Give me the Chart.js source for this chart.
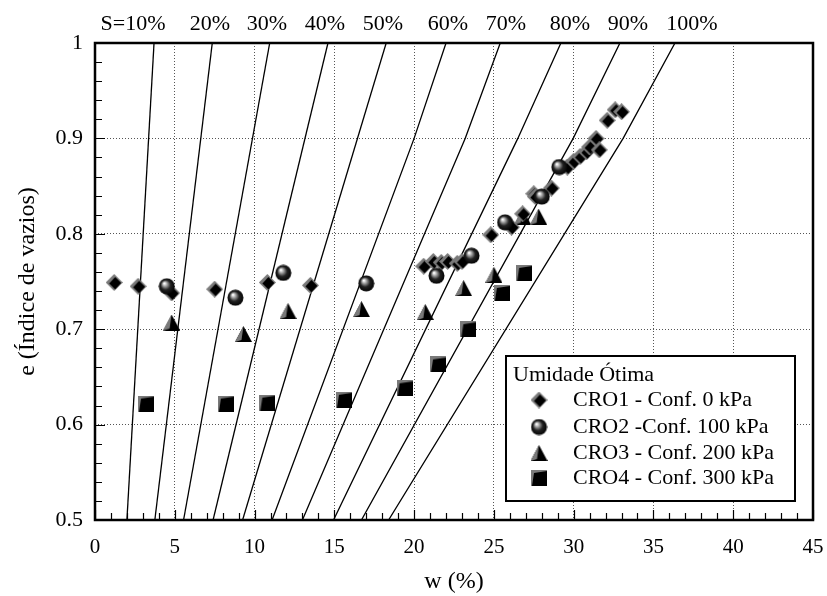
<!DOCTYPE html>
<html>
<head>
<meta charset="utf-8">
<script src="https://cdn.jsdelivr.net/npm/chart.js@4.4.1/dist/chart.umd.min.js"></script>
<style>
  html, body { margin: 0; padding: 0; background: #fff; }
  #wrap { width: 827px; height: 596px; }
</style>
</head>
<body>
<div id="wrap"><canvas id="c" width="827" height="596"></canvas></div>
<script>
// Moisture content w (%) and void ratio e for each confining pressure
const cro1W = [1.2, 2.7, 4.8, 7.5, 10.8, 13.5, 20.6, 21.2, 21.7, 22.1, 22.7, 23.0, 24.8, 26.1, 26.8, 27.5, 27.6, 28.6, 29.6, 30.0, 30.4, 30.8, 31.0, 31.4, 31.6, 32.1, 32.6, 33.0];
const cro1E = [0.749, 0.745, 0.738, 0.742, 0.749, 0.746, 0.766, 0.771, 0.770, 0.771, 0.769, 0.771, 0.799, 0.807, 0.821, 0.842, 0.839, 0.848, 0.870, 0.876, 0.881, 0.886, 0.891, 0.900, 0.888, 0.919, 0.930, 0.928];

const cro2W = [4.5, 8.8, 11.8, 17.0, 21.4, 23.6, 25.7, 28.0, 29.1];
const cro2E = [0.745, 0.733, 0.759, 0.748, 0.756, 0.777, 0.812, 0.839, 0.870];

const cro3W = [4.8, 9.3, 12.1, 16.7, 20.7, 23.1, 25.0, 26.8, 27.8];
const cro3E = [0.707, 0.695, 0.719, 0.721, 0.718, 0.743, 0.757, 0.818, 0.818];

const cro4W = [3.2, 8.2, 10.8, 15.6, 19.4, 21.5, 23.4, 25.5, 26.9];
const cro4E = [0.622, 0.622, 0.623, 0.626, 0.638, 0.663, 0.700, 0.738, 0.759];

// Degree-of-saturation lines: w where each line crosses e = 0.5, 0.9 and 1.0
const satLabels = ['S=10%', '20%', '30%', '40%', '50%', '60%', '70%', '80%', '90%', '100%'];
const satW05 = [2.0, 3.75, 5.55, 7.4, 9.25, 11.1, 13.0, 14.95, 16.7, 18.4];
const satW09 = [null, null, null, null, null, 20.0, 23.2, 26.5, 29.97, 33.1];
const satW10 = [3.7, 7.35, 10.95, 14.6, 18.25, 22.0, 25.4, 29.2, 32.9, 36.35];

const seriesNames = ['CRO1 - Conf. 0 kPa', 'CRO2 -Conf. 100 kPa', 'CRO3 - Conf. 200 kPa', 'CRO4 - Conf. 300 kPa'];
const legendTitle = 'Umidade Ótima';

const xTicks = [0, 5, 10, 15, 20, 25, 30, 35, 40, 45];
const yTicks = [0.5, 0.6, 0.7, 0.8, 0.9, 1];

const SERIF = '"Liberation Serif", "Times New Roman", serif';

// ---- shaded marker sprites ----
function sprite(w, h, draw) {
  const cv = document.createElement('canvas');
  cv.width = w; cv.height = h;
  draw(cv.getContext('2d'), w, h);
  return cv;
}
const diamondImg = sprite(17, 17, (g) => {
  g.fillStyle = '#7a7a7a';
  g.beginPath(); g.moveTo(8.5, 0); g.lineTo(17, 8.5); g.lineTo(8.5, 17); g.lineTo(0, 8.5); g.closePath(); g.fill();
  g.fillStyle = '#000';
  g.beginPath(); g.moveTo(9.5, 3); g.lineTo(15.5, 9); g.lineTo(9.5, 15.5); g.lineTo(3.5, 9.5); g.closePath(); g.fill();
});
const sphereImg = sprite(17, 17, (g) => {
  const gr = g.createRadialGradient(6, 5.5, 0.5, 8.5, 8.5, 8.5);
  gr.addColorStop(0, '#ffffff');
  gr.addColorStop(0.25, '#9a9a9a');
  gr.addColorStop(0.55, '#222');
  gr.addColorStop(1, '#000');
  g.fillStyle = gr;
  g.beginPath(); g.arc(8.5, 8.5, 8, 0, Math.PI * 2); g.fill();
});
const triangleImg = sprite(17, 16, (g) => {
  g.fillStyle = '#000';
  g.beginPath(); g.moveTo(8.5, 0); g.lineTo(17, 16); g.lineTo(0, 16); g.closePath(); g.fill();
  g.fillStyle = '#7a7a7a';
  g.beginPath(); g.moveTo(8.5, 0); g.lineTo(6.5, 14); g.lineTo(0, 16); g.closePath(); g.fill();
});
const squareImg = sprite(16, 16, (g) => {
  g.fillStyle = '#7a7a7a';
  g.fillRect(0, 0, 16, 16);
  g.fillStyle = '#000';
  g.beginPath(); g.moveTo(3, 3); g.lineTo(16, 1); g.lineTo(16, 16); g.lineTo(1, 16); g.closePath(); g.fill();
  g.fillRect(3, 3, 13, 13);
});
const markerImgs = [diamondImg, sphereImg, triangleImg, squareImg];

function pts(ws, es) { return ws.map((w, i) => ({ x: w, y: es[i] })); }

const satDatasets = satLabels.map((lab, i) => {
  const p = [{ x: satW05[i], y: 0.5 }];
  if (satW09[i] !== null) p.push({ x: satW09[i], y: 0.9 });
  p.push({ x: satW10[i], y: 1.0 });
  return {
    label: lab, data: p, showLine: true, borderColor: '#000', borderWidth: 1.3,
    pointRadius: 0, pointHoverRadius: 0, fill: false, order: 10, tension: 0
  };
});

const markerSets = [[cro1W, cro1E], [cro2W, cro2E], [cro3W, cro3E], [cro4W, cro4E]].map((s, i) => ({
  label: seriesNames[i], data: pts(s[0], s[1]), showLine: false,
  pointStyle: markerImgs[i], pointRadius: 8, order: [2, 1, 3, 4][i]
}));

// frame, inward ticks, saturation captions, axis titles and legend box
const decor = {
  id: 'decor',
  afterDatasetsDraw(chart) {
    const { ctx, chartArea: a, scales: { x, y } } = chart;
    ctx.save();
    ctx.strokeStyle = '#000';
    // inward ticks
    ctx.lineWidth = 1.2;
    ctx.beginPath();
    for (let v = 0; v <= 45; v += 1) {
      const px = Math.round(x.getPixelForValue(v)) + 0.5;
      const len = v % 5 === 0 ? 10 : 7;
      ctx.moveTo(px, a.bottom); ctx.lineTo(px, a.bottom - len);
    }
    for (let k = 0; k <= 25; k++) {
      const v = 0.5 + k * 0.02;
      const py = Math.round(y.getPixelForValue(v)) + 0.5;
      const len = k % 5 === 0 ? 10 : 7;
      ctx.moveTo(a.left, py); ctx.lineTo(a.left + len, py);
    }
    ctx.stroke();
    // frame
    ctx.lineWidth = 2.5;
    ctx.strokeRect(a.left, a.top, a.right - a.left, a.bottom - a.top);

    // saturation captions above the plot
    ctx.fillStyle = '#000';
    ctx.font = '22px ' + SERIF;
    ctx.textAlign = 'center';
    ctx.textBaseline = 'alphabetic';
    const capX = [133, 210, 267, 325, 383, 448, 506, 570, 628, 692];
    satLabels.forEach((t, i) => ctx.fillText(t, capX[i], 30));

    // axis titles
    ctx.font = '24px ' + SERIF;
    ctx.fillText('w (%)', (a.left + a.right) / 2, 588);
    ctx.save();
    ctx.translate(28, (a.top + a.bottom) / 2);
    ctx.rotate(-Math.PI / 2);
    ctx.textBaseline = 'middle';
    ctx.fillText('e (Índice de vazios)', 0, 0);
    ctx.restore();

    // legend
    const bx = 506, by = 356, bw = 289, bh = 145;
    ctx.fillStyle = '#fff';
    ctx.fillRect(bx, by, bw, bh);
    ctx.lineWidth = 2;
    ctx.strokeStyle = '#000';
    ctx.strokeRect(bx, by, bw, bh);
    ctx.fillStyle = '#000';
    ctx.textAlign = 'left';
    ctx.textBaseline = 'middle';
    ctx.font = '22px ' + SERIF;
    ctx.fillText(legendTitle, 513, 375);
    const rows = [400, 427, 453, 478];
    seriesNames.forEach((t, i) => {
      const img = markerImgs[i];
      ctx.drawImage(img, 539 - img.width / 2, rows[i] - img.height / 2);
      ctx.fillText(t, 573, rows[i]);
    });
    ctx.restore();
  }
};

new Chart(document.getElementById('c'), {
  type: 'scatter',
  data: { datasets: [...satDatasets, ...markerSets] },
  options: {
    responsive: false,
    animation: false,
    events: [],
    layout: { padding: { left: 0, top: 43, right: 14, bottom: 0 } },
    plugins: { legend: { display: false }, title: { display: false }, tooltip: { enabled: false } },
    scales: {
      x: {
        type: 'linear', min: 0, max: 45,
        afterBuildTicks: (s) => { s.ticks = xTicks.map(v => ({ value: v })); },
        afterFit: (s) => { s.height = 76; s.paddingLeft = 0; s.paddingRight = 0; },
        ticks: { color: '#000', font: { family: SERIF, size: 21 }, padding: 15, maxRotation: 0 },
        grid: { color: '#555', lineWidth: 1, drawTicks: false },
        border: { display: false, dash: [1, 2] }
      },
      y: {
        type: 'linear', min: 0.5, max: 1,
        afterBuildTicks: (s) => { s.ticks = yTicks.map(v => ({ value: v })); },
        afterFit: (s) => { s.width = 95; s.paddingTop = 0; s.paddingBottom = 0; },
        ticks: {
          color: '#000', font: { family: SERIF, size: 22 }, padding: 12,
          callback: (v) => String(Number(v.toFixed(1)))
        },
        grid: { color: '#555', lineWidth: 1, drawTicks: false },
        border: { display: false, dash: [1, 2] }
      }
    }
  },
  plugins: [decor]
});
</script>
</body>
</html>
